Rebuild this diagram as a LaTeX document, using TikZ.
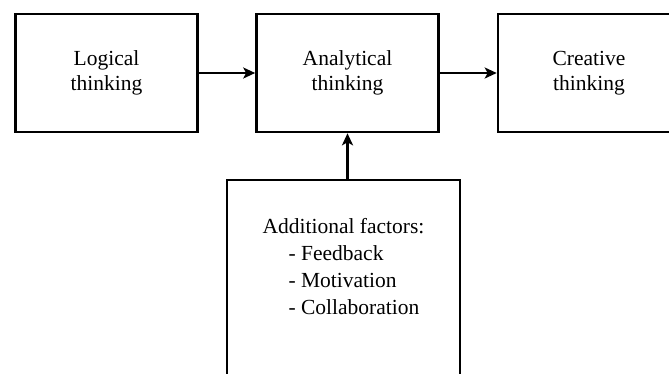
\documentclass[tikz,border=0pt]{standalone}
\usepackage{fontspec}
\setmainfont{Liberation Serif}
\usepackage{tikz}
\usetikzlibrary{arrows.meta}

\tikzset{
	thinkbox/.style={draw, line width=2.6pt, minimum width=182pt, minimum height=118pt,
		align=center, font=\fontsize{21.5}{25}\selectfont},
	flow/.style={-{Stealth[length=12pt,width=11pt,inset=3pt]}, line width=2.4pt}
}

\begin{document}
\begin{tikzpicture}[x=1pt,y=-1pt]
	
	\useasboundingbox (0,0) rectangle (669,373);
	
	% Draw nodes
	\node[thinkbox] (LT) at (106.5,73) {Logical\\thinking};
	\node[thinkbox] (AT) at (347.5,73) {Analytical\\thinking};
	\node[thinkbox] (CT) at (589,73) {Creative\\thinking};
	\node[thinkbox, minimum width=233pt, minimum height=210pt] (AF) at (343.5,285) {};
	\node[align=left, font=\fontsize{21.5}{27}\selectfont] (AFlist) at (343.5,267)
		{Additional factors:\\\hspace{26pt}- Feedback\\\hspace{26pt}- Motivation\\\hspace{26pt}- Collaboration};
	
	% Draw arcs
	\draw[flow] (LT) to (AT);
	\draw[flow] (AT) to (CT);
	\draw[flow] (AF.north -| AT.south) to (AT.south);
	
\end{tikzpicture}
\end{document}
